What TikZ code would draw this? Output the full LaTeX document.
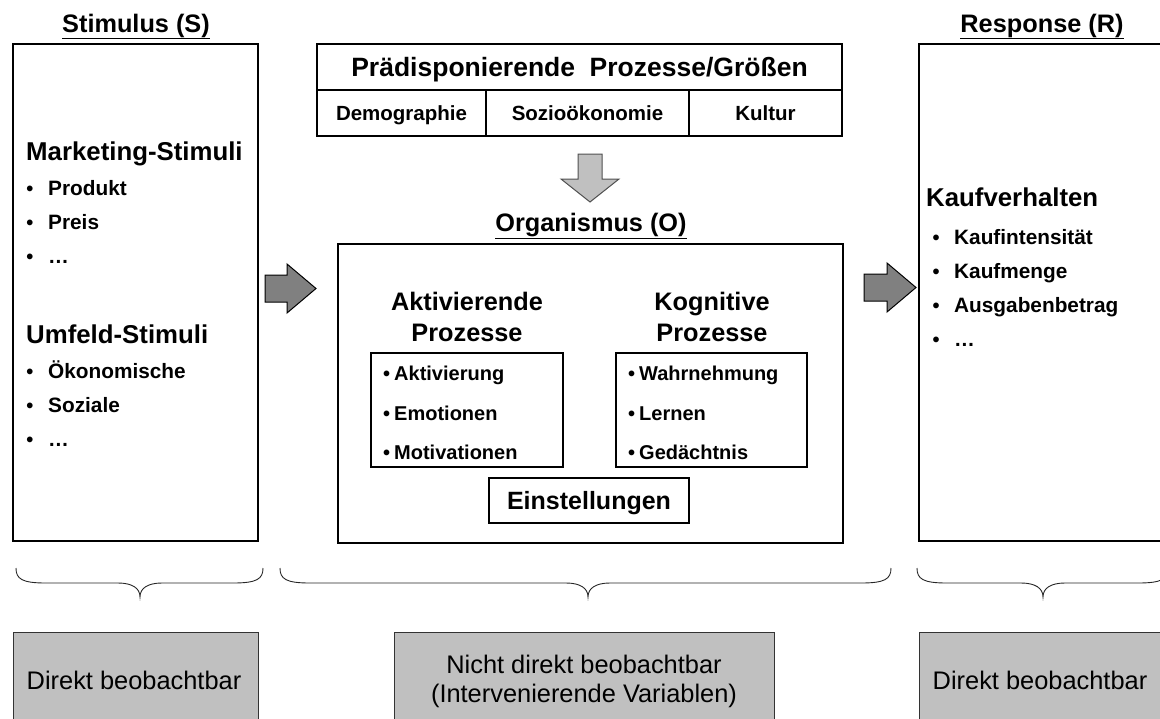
\documentclass[tikz,border=0pt]{standalone}
\usepackage{fontspec}
\setmainfont{Liberation Sans}
\definecolor{lightfill}{HTML}{C0C0C0}
\definecolor{arrowfill}{HTML}{808080}
\definecolor{arrowline}{HTML}{505050}
\newcommand{\bracepath}[3]{%
  \draw[bracestyle] (#1,568) .. controls (#1,579) and ({#1+6},583) .. ({#1+30},583)
    -- ({#2-22},583) .. controls ({#2-8},583) and (#2,588) .. (#2,597)
    .. controls (#2,588) and ({#2+8},583) .. ({#2+22},583)
    -- ({#3-30},583) .. controls ({#3-6},583) and (#3,579) .. (#3,568);}
\begin{document}
\begin{tikzpicture}[x=1pt,y=-1pt,
  frame/.style={draw=black, line width=1.3pt, inner sep=0pt, outer sep=0pt, anchor=north west},
  gbox/.style={draw=black!80, line width=0.9pt, fill=lightfill, inner sep=0pt, outer sep=0pt, anchor=north west},
  ttl/.style={font=\fontsize{25.3}{30}\selectfont\bfseries, inner sep=0pt, anchor=base},
  hd/.style={font=\fontsize{25.8}{30}\selectfont\bfseries, inner sep=0pt, anchor=base west},
  ct/.style={font=\fontsize{25.3}{30}\selectfont\bfseries, inner sep=0pt, anchor=base},
  it/.style={font=\fontsize{20.8}{24}\selectfont\bfseries, inner sep=0pt, anchor=base west},
  iit/.style={font=\fontsize{20}{24}\selectfont\bfseries, inner sep=0pt, anchor=base west},
  bul/.style={font=\fontsize{20}{24}\selectfont\bfseries, inner sep=0pt, anchor=base},
  bt/.style={font=\fontsize{25.4}{30}\selectfont, inner sep=0pt, anchor=base},
  cellbig/.style={font=\fontsize{26.5}{30}\selectfont\bfseries, text height=19pt, text depth=0pt},
  cellmid/.style={font=\fontsize{25}{30}\selectfont\bfseries, text height=17.9pt, text depth=0pt},
  cell/.style={font=\fontsize{20.5}{24}\selectfont\bfseries, text height=14.7pt, text depth=0pt},
  sidearrow/.style={draw=black, line width=1pt, fill=arrowfill, line join=miter},
  downarrow/.style={draw=arrowline, line width=1pt, fill=lightfill, line join=miter},
  bracestyle/.style={draw=black!85, line width=0.9pt}
]
\useasboundingbox (0,0) rectangle (1160,718);
\clip (0,0) rectangle (1160,718);

% titles
\node[ttl] (tS) at (136,32) {\underline{Stimulus (S)}};
\node[ttl] (tR) at (1042,32) {\underline{Response (R)}};
\node[ttl] (tO) at (591,231) {\underline{Organismus (O)}};

% Stimulus box
\node[frame, minimum width=245pt, minimum height=497pt] (S) at (13,44) {};
\node[hd] (sm) at (26,160) {Marketing-Stimuli};
\node[bul] (sb1) at (30,195) {•}; \node[it] (st1) at (48,195) {Produkt};
\node[bul] (sb2) at (30,229) {•}; \node[it] (st2) at (48,229) {Preis};
\node[bul] (sb3) at (30,263) {•}; \node[it] (st3) at (48,263) {…};
\node[hd] (su) at (26,343) {Umfeld-Stimuli};
\node[bul] (sb4) at (30,378) {•}; \node[it] (st4) at (48,378) {Ökonomische};
\node[bul] (sb5) at (30,412) {•}; \node[it] (st5) at (48,412) {Soziale};
\node[bul] (sb6) at (30,446) {•}; \node[it] (st6) at (48,446) {…};

% Response box
\node[frame, minimum width=245pt, minimum height=497pt] (R) at (919,44) {};
\node[hd] (rk) at (926,206) {Kaufverhalten};
\node[bul] (rb1) at (936,244) {•}; \node[it] (rt1) at (954,244) {Kaufintensität};
\node[bul] (rb2) at (936,278) {•}; \node[it] (rt2) at (954,278) {Kaufmenge};
\node[bul] (rb3) at (936,312) {•}; \node[it] (rt3) at (954,312) {Ausgabenbetrag};
\node[bul] (rb4) at (936,346) {•}; \node[it] (rt4) at (954,346) {…};

% Praedisponierende box
\node[frame, cellbig, minimum width=525pt, minimum height=46pt] (P) at (317,44) {Prädisponierende\hspace{0.55em}Prozesse/Größen};
\node[frame, cell, minimum width=169pt, minimum height=46pt] (P1) at (317,90) {Demographie};
\node[frame, cell, minimum width=203pt, minimum height=46pt] (P2) at (486,90) {Sozioökonomie};
\node[frame, cell, minimum width=153pt, minimum height=46pt] (P3) at (689,90) {Kultur};

% down arrow
\draw[downarrow] (578,154) -- (602,154) -- (602,179) -- (619,179) -- (590,202) -- (561,179) -- (578,179) -- cycle;

% Organismus box
\node[frame, minimum width=505pt, minimum height=299pt] (O) at (338,244) {};
\node[ct] (oa1) at (467,310) {Aktivierende};
\node[ct] (oa2) at (467,341) {Prozesse};
\node[ct] (ok1) at (712,310) {Kognitive};
\node[ct] (ok2) at (712,341) {Prozesse};
\node[frame, minimum width=192pt, minimum height=114pt] (A) at (371,353) {};
\node[frame, minimum width=191pt, minimum height=114pt] (K) at (616,353) {};
\node[iit] (a1) at (383,380) {•\hspace{4pt}Aktivierung};
\node[iit] (a2) at (383,420) {•\hspace{4pt}Emotionen};
\node[iit] (a3) at (383,459) {•\hspace{4pt}Motivationen};
\node[iit] (k1) at (628,380) {•\hspace{4pt}Wahrnehmung};
\node[iit] (k2) at (628,420) {•\hspace{4pt}Lernen};
\node[iit] (k3) at (628,459) {•\hspace{4pt}Gedächtnis};
\node[frame, cellmid, minimum width=200pt, minimum height=45pt] (E) at (489,478) {Einstellungen};

% side arrows
\draw[sidearrow] (265,275) -- (287,275) -- (287,264) -- (316,288.5) -- (287,313) -- (287,302) -- (265,302) -- cycle;
\draw[sidearrow] (864,274) -- (887,274) -- (887,263) -- (916,287.5) -- (887,312) -- (887,301) -- (864,301) -- cycle;

% braces
\bracepath{16}{140}{263}
\bracepath{280}{588}{891}
\bracepath{917}{1043}{1168}

% bottom boxes
\node[gbox, minimum width=245pt, minimum height=100pt] (GL) at (13,632) {};
\node[gbox, minimum width=380pt, minimum height=100pt] (GM) at (394,632) {};
\node[gbox, minimum width=245pt, minimum height=100pt] (GR) at (919,632) {};
\node[bt] (gl) at (134,689) {Direkt beobachtbar};
\node[bt] (gm1) at (584,673) {Nicht direkt beobachtbar};
\node[bt] (gm2) at (584,702) {(Intervenierende Variablen)};
\node[bt] (gr) at (1040,689) {Direkt beobachtbar};
\end{tikzpicture}
\end{document}
